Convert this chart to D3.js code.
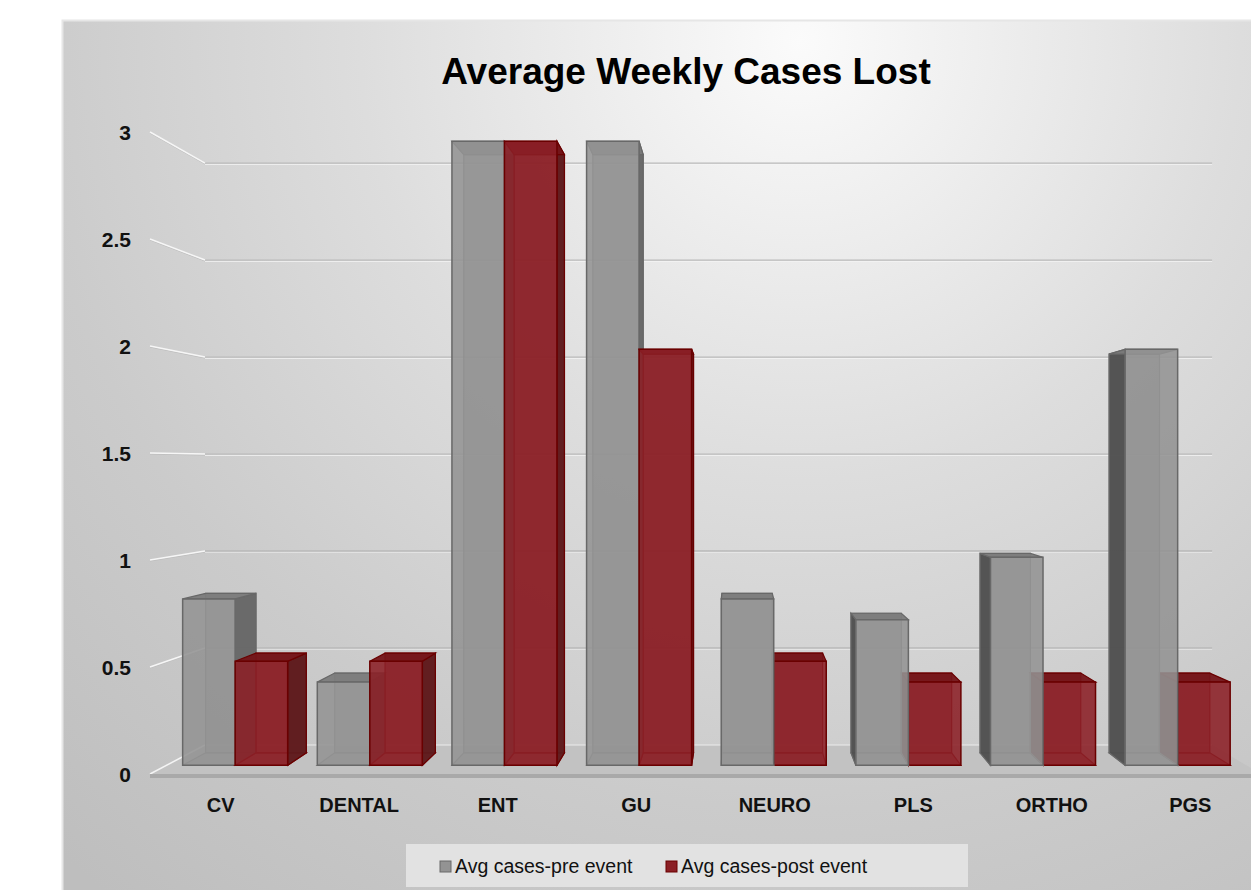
<!DOCTYPE html>
<html>
<head>
<meta charset="utf-8">
<script src="https://cdn.jsdelivr.net/npm/d3@7"></script>
<style>
  html, body { margin: 0; padding: 0; background: #fff; }
  svg { display: block; }
  .tick-label { font-family: "Liberation Sans", Arial, sans-serif; font-size: 21px; font-weight: bold; fill: #111; }
  .cat-label { font-family: "Liberation Sans", Arial, sans-serif; font-size: 20px; font-weight: bold; fill: #111; }
  .title { font-family: "Liberation Sans", Arial, sans-serif; font-size: 37px; font-weight: bold; fill: #000; }
  .legend-text { font-family: "Liberation Sans", Arial, sans-serif; font-size: 19.5px; fill: #111; }
</style>
</head>
<body>
<script>
const W = 1251, H = 890;

// data
const categories = ["CV", "DENTAL", "ENT", "GU", "NEURO", "PLS", "ORTHO", "PGS"];
const preValues  = [0.8, 0.4, 3, 3, 0.8, 0.7, 1, 2];
const postValues = [0.5, 0.5, 3, 2, 0.5, 0.4, 0.4, 0.4];
const seriesNames = ["Avg cases-pre event", "Avg cases-post event"];
const yTicks = [0, 0.5, 1, 1.5, 2, 2.5, 3];
const chartTitle = "Average Weekly Cases Lost";

// colours per series: front, side, top, edge
const palette = [
  {front: "#939393", side: "#4f4f4f", sideR: "#666666", top: "#7b7b7b", edge: "#686868", hidden: "#7a7a7a"},
  {front: "#8b1f25", side: "#5e1619", sideR: "#5e1a1c", top: "#741418", edge: "#6a0000", hidden: "#7a0f12"}
];

// simple perspective: world x on the front plane, value, depth z (0 front .. 1 back wall)
const vp = {x: 738, y: 464};
const depth = d3.scaleLinear().domain([0, 1]).range([1, 0.9065]);
const yFront = d3.scaleLinear().domain([0, 3]).range([774, 132]);
const xBand = d3.scaleBand().domain(categories).range([150, 1261])
    .paddingInner(0.22).paddingOuter(0.12);
const xSub = d3.scaleBand().domain([0, 1]).range([0, xBand.bandwidth()]);
const zFront = 0.3, zBack = 0.73;
const floorX = xBand.range();

function proj(X, v, z) {
  const s = depth(z);
  return [vp.x + (X - vp.x) * s, vp.y + (yFront(v) - vp.y) * s];
}
function poly(pts) { return "M" + pts.map(p => p.join(",")).join("L") + "Z"; }

const svg = d3.select("body").append("svg").attr("width", W).attr("height", H);
const defs = svg.append("defs");
const bg = defs.append("radialGradient").attr("id", "bg")
    .attr("gradientUnits", "userSpaceOnUse")
    .attr("cx", 800).attr("cy", 40).attr("r", 1100);
bg.append("stop").attr("offset", 0).attr("stop-color", "#fbfbfb");
bg.append("stop").attr("offset", 0.4).attr("stop-color", "#dddddd");
bg.append("stop").attr("offset", 0.7).attr("stop-color", "#cbcbcb");
bg.append("stop").attr("offset", 1).attr("stop-color", "#bebebe");

//chart panel
svg.append("rect").attr("x", 62).attr("y", 20).attr("width", W - 62).attr("height", H - 20)
    .attr("fill", "url(#bg)");
svg.append("path").attr("d", `M62.5,${H}V20.5H${W}`)
    .attr("fill", "none").attr("stroke", "#e6e6e6").attr("stroke-width", 2);

//title
svg.append("text").attr("class", "title")
    .attr("x", 686).attr("y", 84).attr("text-anchor", "middle")
    .text(chartTitle);

//gridlines: back wall and left wall
const grid = svg.append("g");
yTicks.filter(v => v > 0).forEach(v => {
  const a = proj(floorX[0], v, 1), b = proj(floorX[1], v, 1), f = proj(floorX[0], v, 0);
  grid.append("line").attr("x1", a[0]).attr("y1", a[1] + 1).attr("x2", b[0]).attr("y2", b[1] + 1)
      .attr("stroke", "#f4f4f4").attr("stroke-width", 1.2);
  grid.append("line").attr("x1", a[0]).attr("y1", a[1]).attr("x2", b[0]).attr("y2", b[1])
      .attr("stroke", "#b9b9b9").attr("stroke-width", 1.3);
  grid.append("line").attr("x1", f[0]).attr("y1", f[1] + 1).attr("x2", a[0]).attr("y2", a[1] + 1)
      .attr("stroke", "#bdbdbd").attr("stroke-width", 1);
  grid.append("line").attr("x1", f[0]).attr("y1", f[1]).attr("x2", a[0]).attr("y2", a[1])
      .attr("stroke", "#f6f6f6").attr("stroke-width", 1.5);
});

//floor
const floorPts = [proj(floorX[0], 0, 0), proj(floorX[1], 0, 0), proj(floorX[1], 0, 1), proj(floorX[0], 0, 1)];
svg.append("path").attr("d", poly(floorPts)).attr("fill", "#c2c2c2");
svg.append("line").attr("x1", floorPts[3][0]).attr("y1", floorPts[3][1]).attr("x2", floorPts[2][0]).attr("y2", floorPts[2][1])
    .attr("stroke", "#ececec").attr("stroke-width", 1.2);
svg.append("line").attr("x1", floorPts[0][0]).attr("y1", floorPts[0][1]).attr("x2", floorPts[3][0]).attr("y2", floorPts[3][1])
    .attr("stroke", "#f4f4f4").attr("stroke-width", 1.5);
svg.append("rect").attr("x", floorPts[0][0]).attr("y", floorPts[0][1])
    .attr("width", floorPts[1][0] - floorPts[0][0]).attr("height", 4).attr("fill", "#a9a9a9");

//bars
const bars = [];
categories.forEach((c, i) => {
  [preValues[i], postValues[i]].forEach((v, s) => {
    const x0 = xBand(c) + xSub(s);
    bars.push({cat: c, s: s, v: v, x0: x0, x1: x0 + xSub.bandwidth()});
  });
});
bars.sort((a, b) => Math.abs((b.x0 + b.x1) / 2 - vp.x) - Math.abs((a.x0 + a.x1) / 2 - vp.x));

const barG = svg.append("g");
bars.forEach(d => {
  const col = palette[d.s];
  const g = barG.append("g");
  const P = (x, v, z) => proj(x, v, z);
  const fbl = P(d.x0, 0, zFront), fbr = P(d.x1, 0, zFront), ftl = P(d.x0, d.v, zFront), ftr = P(d.x1, d.v, zFront);
  const bbl = P(d.x0, 0, zBack), bbr = P(d.x1, 0, zBack), btl = P(d.x0, d.v, zBack), btr = P(d.x1, d.v, zBack);
  // back face and hidden edges, seen through the transparent bar
  g.append("path").attr("d", poly([bbl, bbr, btr, btl])).attr("fill", col.front).attr("fill-opacity", 0.6)
      .attr("stroke", col.hidden).attr("stroke-width", 1.2);
  g.append("path").attr("d", poly([fbl, fbr, bbr, bbl])).attr("fill", col.front).attr("fill-opacity", 0.5)
      .attr("stroke", col.hidden).attr("stroke-width", 1.2);
  // sides
  if (d.x0 > vp.x) {
    g.append("path").attr("d", poly([fbl, ftl, btl, bbl])).attr("fill", col.side).attr("fill-opacity", 0.95)
        .attr("stroke", col.edge).attr("stroke-width", 1.2);
  }
  if (d.x1 < vp.x) {
    g.append("path").attr("d", poly([fbr, ftr, btr, bbr])).attr("fill", col.sideR).attr("fill-opacity", 0.95)
        .attr("stroke", col.edge).attr("stroke-width", 1.2);
  }
  // top
  g.append("path").attr("d", poly([ftl, ftr, btr, btl])).attr("fill", col.top).attr("fill-opacity", 0.95)
      .attr("stroke", col.edge).attr("stroke-width", 1.2);
  // front
  g.append("path").attr("d", poly([fbl, fbr, ftr, ftl])).attr("fill", col.front).attr("fill-opacity", 0.88)
      .attr("stroke", col.edge).attr("stroke-width", 1.5);
});

//y axis labels
svg.append("g").selectAll("text").data(yTicks).enter().append("text")
    .attr("class", "tick-label")
    .attr("x", 131).attr("y", v => yFront(v) + 8)
    .attr("text-anchor", "end")
    .text(v => v);

//category labels
svg.append("g").selectAll("text").data(categories).enter().append("text")
    .attr("class", "cat-label")
    .attr("x", c => xBand(c) + xBand.bandwidth() / 2)
    .attr("y", 812)
    .attr("text-anchor", "middle")
    .text(c => c);

//legend
const legend = svg.append("g");
legend.append("rect").attr("x", 406).attr("y", 844).attr("width", 562).attr("height", 43)
    .attr("fill", "#e2e2e2");
const legendX = [440, 666];
seriesNames.forEach((name, i) => {
  legend.append("rect").attr("x", legendX[i]).attr("y", 861).attr("width", 11).attr("height", 11)
      .attr("fill", palette[i].front).attr("stroke", palette[i].edge).attr("stroke-width", 1);
  legend.append("text").attr("class", "legend-text")
      .attr("x", legendX[i] + 15).attr("y", 873)
      .text(name);
});
</script>
</body>
</html>
